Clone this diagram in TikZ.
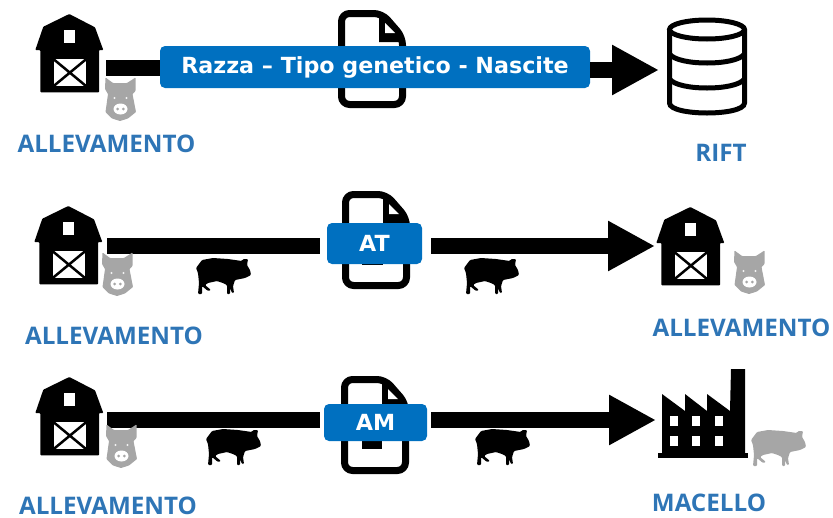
\documentclass[tikz,border=0pt]{standalone}
\usepackage{fontspec}
\setmainfont{Open Sans}
\newfontfamily\labfont{DejaVu Sans}
\usetikzlibrary{arrows.meta}
\definecolor{boxblue}{HTML}{0070C0}
\definecolor{capblue}{HTML}{2E75B6}
\definecolor{piggray}{HTML}{A6A6A6}
\tikzset{
  barbar/.style={line width=16pt,black},
  arrowbar/.style={barbar,-{Triangle[length=47pt,width=47pt]}},
  caption/.style={font=\fontsize{24.2}{26}\selectfont\bfseries,text=capblue,inner sep=0pt,anchor=center},
  labelbox/.style={fill=boxblue,rounded corners=5pt,inner sep=0pt,text=white,font=\labfont\bfseries\fontsize{22.2}{24}\selectfont,anchor=center},
  barnicon/.pic={
    \fill[black,rounded corners=.8pt] (34.3,1)--(60,14.3)--(68.3,37)--(64,37)--(64,79.3)--(5.3,79.3)--(5.3,37)--(.3,37)--(8.3,13.7)--cycle;
    \fill[white] (29.3,17.3) rectangle (39.7,30.3);
    \fill[white] (18.7,46.3) rectangle (51,73);
    \draw[black,line width=2.5pt] (18.7,46.3)--(51,73) (51,46.3)--(18.7,73);
  },
  headicon/.pic={
    \fill[piggray,rounded corners=.7pt] (.5,-.5)--(8,5)--(22,5)--(30.5,-.5)--(30.5,13)--(27.5,16)--(31,34)--(23,40.5)--(15,43)--(7,40.5)--(.5,34)--(3,16)--(0,11)--cycle;
    \fill[white] (15.5,31) ellipse[x radius=7,y radius=5.5];
    \fill[piggray] (12.7,31) circle[radius=1.5] (18.3,31) circle[radius=1.5];
    \fill[white!85!piggray] (9.5,20) circle[radius=1.2] (21.5,20) circle[radius=1.2];
  },
  pigicon/.pic={
    \fill[rounded corners=1pt,pic actions] (1,11)--(7,3)--(18,1)--(33,2)--(47,4)--(48,2)--(53,2)--(52,8)--(55,13)--(56,18)--(50,21)--(40,23)--(38,29)--(39,36)--(37,36)--(35,31)--(35,37)--(32,37)--(32,28)--(28,26)--(22,24)--(13,26)--(10,28)--(16,33)--(13,34)--(7,29)--(7,37)--(3,37)--(4,26)--(3,16)--cycle;
  },
  docicon/.pic={
    \draw[black,line width=7pt,rounded corners=8pt,line join=round] (3.5,3.5)--(44,3.5)--(64.5,27)--(64.5,94.5)--(3.5,94.5)--cycle;
    \fill[black] (41,3)--(45,3)--(64,25)--(64,32)--(41,32)--cycle;
    \fill[white] (47,13)--(47,23)--(57,23)--cycle;
  }
}
\begin{document}
\begin{tikzpicture}[x=1pt,y=-1pt]
\useasboundingbox (0,0) rectangle (833,517);
% documents
\pic at (338,10) {docicon};
\pic at (342,191) {docicon};
\pic at (341,376) {docicon};
\fill[black] (362,250) rectangle (383,265);
\fill[black] (362,430) rectangle (382,449);
% row anchors
\coordinate (src1) at (106,68);
\coordinate (tgt1) at (659,70);
\coordinate (src2) at (107,246);
\coordinate (tgt2) at (655,246);
\coordinate (src3) at (107,420);
\coordinate (tgt3) at (656,420);
% labels
\node[labelbox,minimum width=430pt,minimum height=42pt] (lab1) at (375,67) {\raisebox{-3pt}{Razza – Tipo genetico - Nascite}};
\node[labelbox,minimum width=95pt,minimum height=41pt] (lab2) at (374.5,243.5) {\raisebox{-1.5pt}{AT}};
\node[labelbox,minimum width=103pt,minimum height=37pt] (lab3) at (375.5,422.5) {\raisebox{-1pt}{AM}};
% connectors
\draw[barbar] (src1) -- (src1 -| lab1.west);
\draw[arrowbar] (lab1.east |- tgt1) -- (tgt1);
\draw[barbar,shorten >=7pt] (src2) -- (src2 -| lab2.west);
\draw[arrowbar,shorten <=9pt] (lab2.east |- tgt2) -- (tgt2);
\draw[barbar,shorten >=4pt] (src3) -- (src3 -| lab3.west);
\draw[arrowbar,shorten <=4pt] (lab3.east |- tgt3) -- (tgt3);
% barns
\pic at (35,13) {barnicon};
\pic at (34,205) {barnicon};
\pic at (35,376) {barnicon};
\pic at (656,206) {barnicon};
% pig heads
\pic at (105,78) {headicon};
\pic at (102,253) {headicon};
\pic at (106,425) {headicon};
\pic at (734,251) {headicon};
% pigs
\pic[black] at (195,257) {pigicon};
\pic[black] at (463,257) {pigicon};
\pic[black] at (205,428) {pigicon};
\pic[black] at (474,428) {pigicon};
\pic[piggray] at (750,429) {pigicon};
% database
\begin{scope}[black,line width=5pt]
\draw (707,29.5) ellipse[x radius=37.5,y radius=9.5];
\draw (669.5,30)--(669.5,103) .. controls (669.5,110) and (690,113) .. (707,113) .. controls (724,113) and (744.5,110) .. (744.5,103)--(744.5,30);
\draw (669.5,54) .. controls (674,60) and (690,63) .. (707,63) .. controls (724,63) and (740,60) .. (744.5,54);
\draw (669.5,79) .. controls (674,85) and (690,88) .. (707,88) .. controls (724,88) and (740,85) .. (744.5,79);
\end{scope}
% factory
\fill[black] (658,453) rectangle (748,458);
\fill[black] (662,454)--(662,394)--(685,411)--(685,394)--(707,411)--(707,394)--(730,411)--(731,369)--(745,369)--(745,454)--cycle;
\foreach \wx in {670,692,715} \foreach \wy in {416,436} \fill[white] (\wx,\wy) rectangle ++(7.5,10);
% captions
\node[caption] (c1) at (106.5,144) {ALLEVAMENTO};
\node[caption] (c2) at (114,335.5) {ALLEVAMENTO};
\node[caption] (c3) at (741.5,327.5) {ALLEVAMENTO};
\node[caption] (c4) at (108,506) {ALLEVAMENTO};
\node[caption] (c5) at (709,502.5) {MACELLO};
\node[caption] (c6) at (721,152.5) {RIFT};
\end{tikzpicture}
\end{document}
